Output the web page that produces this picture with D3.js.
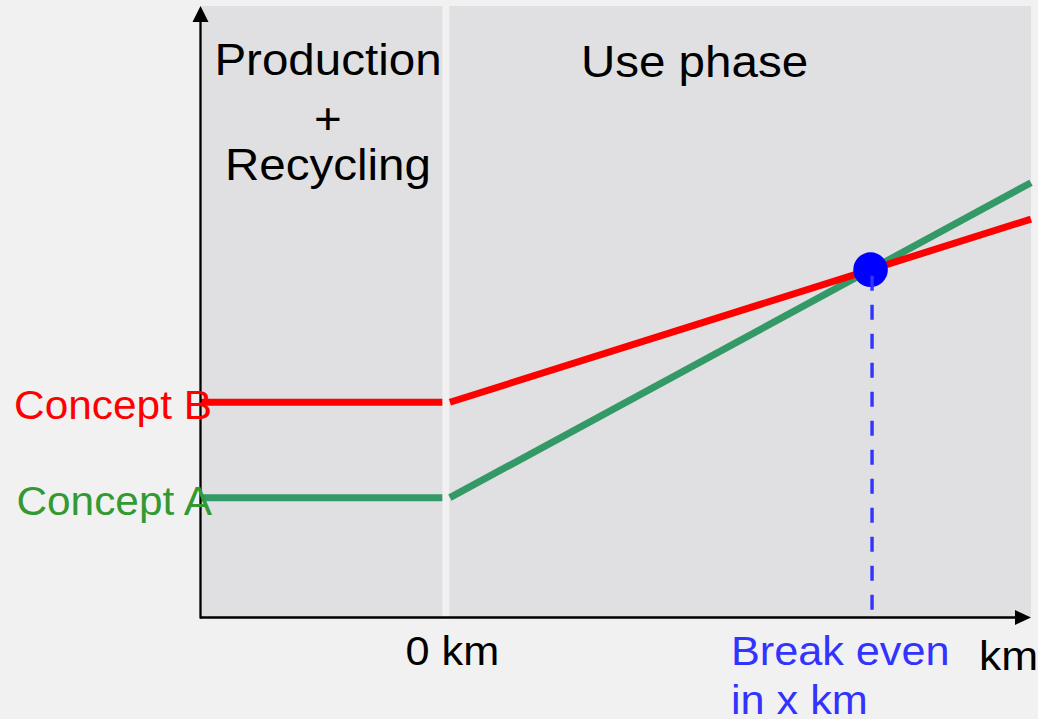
<!DOCTYPE html>
<html>
<head>
<meta charset="utf-8">
<script src="https://cdn.jsdelivr.net/npm/d3@7"></script>
<style>
  html, body { margin: 0; padding: 0; background: #f1f1f1; }
  svg { display: block; }
  text { font-family: "Liberation Sans", Arial, sans-serif; }
</style>
</head>
<body>
<svg id="chart" width="1038" height="719"></svg>
<script>
// Life-cycle comparison of two concepts: fixed production impact, then growth per km.
const concepts = ["Concept A", "Concept B"];
const productionImpact = [19.6, 35.2];   // impact after production + recycling
const impactAt100 = [71.1, 65.15];       // impact at the end of the shown use phase
const useKm = [0, 100];                  // use phase range (relative km)

const phases = ["Production\n+\nRecycling", "Use phase"];
const phaseFrom = [-43, -0.1];
const phaseTo = [-1.3, 100];

const xLabels = ["0 km", "km"];
const breakEvenLabel = ["Break even", "in x km"];

const colors = {
  "Concept A": { line: "#339966", text: "#339933" },
  "Concept B": { line: "#ff0000", text: "#ff0000" }
};

const W = 1038, H = 719;
const svg = d3.select("#chart");

const x = d3.scaleLinear().domain([-43, 100]).range([200, 1031]);
const y = d3.scaleLinear().domain([0, 100]).range([617.5, 6]);

// text slightly widened horizontally
function label(g, px, py, str, size, color, anchor, sx) {
  const t = g.append("g").attr("transform", `translate(${px},${py}) scale(${sx || 1.08},1)`);
  t.append("text")
    .attr("text-anchor", anchor || "start")
    .attr("font-size", size)
    .attr("fill", color)
    .text(str);
  return t;
}

// phase panels
svg.append("g").selectAll("rect")
  .data(phases)
  .join("rect")
  .attr("x", (d, i) => x(phaseFrom[i]))
  .attr("width", (d, i) => x(phaseTo[i]) - x(phaseFrom[i]))
  .attr("y", y(100))
  .attr("height", y(0) - y(100))
  .attr("fill", "#e0e0e2");

// phase titles
const titles = svg.append("g");
const prodLines = phases[0].split("\n");
label(titles, 328, 75, prodLines[0], 44, "#000", "middle");
label(titles, 328, 133.5, prodLines[1], 44, "#000", "middle");
label(titles, 328, 180, prodLines[2], 44, "#000", "middle");
label(titles, 694.5, 77, phases[1], 44, "#000", "middle");

// impact lines per concept
const slopes = concepts.map((c, i) => (impactAt100[i] - productionImpact[i]) / (useKm[1] - useKm[0]));
const lines = svg.append("g");
concepts.forEach((c, i) => {
  lines.append("line")
    .attr("x1", x(-43)).attr("x2", x(phaseTo[0]))
    .attr("y1", y(productionImpact[i])).attr("y2", y(productionImpact[i]))
    .attr("stroke", colors[c].line).attr("stroke-width", 7);
  lines.append("line")
    .attr("x1", x(useKm[0])).attr("x2", x(useKm[1]))
    .attr("y1", y(productionImpact[i])).attr("y2", y(impactAt100[i]))
    .attr("stroke", colors[c].line).attr("stroke-width", 7);
});

// break-even point where the two lines cross
const beKm = (productionImpact[1] - productionImpact[0]) / (slopes[0] - slopes[1]);
const beVal = productionImpact[0] + slopes[0] * beKm;

svg.append("circle")
  .attr("cx", x(beKm)).attr("cy", y(beVal)).attr("r", 17.3)
  .attr("fill", "#0000ff");

svg.append("line")
  .attr("x1", x(beKm) + 1.5).attr("x2", x(beKm) + 1.5)
  .attr("y1", y(beVal) + 6).attr("y2", y(0) - 3)
  .attr("stroke", "#3333ff").attr("stroke-width", 3.4)
  .attr("stroke-dasharray", "15,14");

// axes (no ticks) with arrow heads
const axX = svg.append("g").attr("transform", `translate(0,${y(0)})`)
  .call(d3.axisBottom(x).tickValues([]).tickSizeOuter(0));
axX.select(".domain").attr("stroke", "#000").attr("stroke-width", 2.5)
  .attr("d", `M${x(-43)},0H${x(100) - 8}`);
const axY = svg.append("g").attr("transform", `translate(${x(-43) + 0.5},0)`)
  .call(d3.axisLeft(y).tickValues([]).tickSizeOuter(0));
axY.select(".domain").attr("stroke", "#000").attr("stroke-width", 2.3)
  .attr("d", `M0,${y(0) + 1}V${y(100) + 8}`);

svg.append("path")
  .attr("d", `M${x(100)},${y(0)}L${x(100) - 16},${y(0) - 7.5}L${x(100) - 16},${y(0) + 7.5}Z`)
  .attr("fill", "#000");
svg.append("path")
  .attr("d", `M${x(-43) + 0.5},${y(100)}L${x(-43) - 7.5},${y(100) + 16}L${x(-43) + 8.5},${y(100) + 16}Z`)
  .attr("fill", "#000");

// concept labels at the value axis
const cl = svg.append("g");
concepts.forEach((c, i) => {
  label(cl, 212, y(productionImpact[i]) + 17, c, 40, colors[c].text, "end", 1.06);
});

// x-axis labels
const xl = svg.append("g");
label(xl, x(0) + 2.5, 665, xLabels[0], 40, "#000", "middle");
label(xl, 979, 670, xLabels[1], 41, "#000", "start");
label(xl, 731, 665, breakEvenLabel[0], 40, "#3333ff", "start");
label(xl, 731, 714, breakEvenLabel[1], 40, "#3333ff", "start");
</script>
</body>
</html>
